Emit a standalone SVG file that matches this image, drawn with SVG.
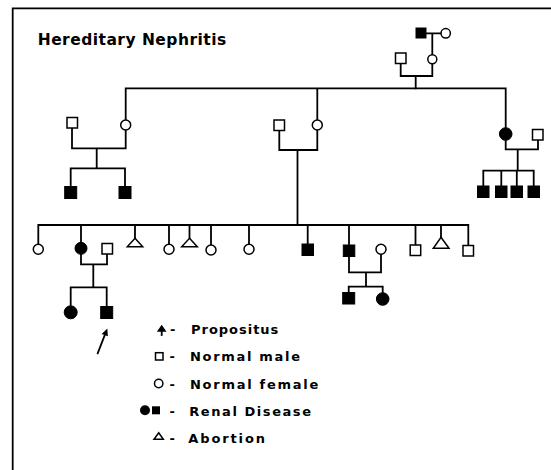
<svg xmlns="http://www.w3.org/2000/svg" width="551" height="470" viewBox="0 0 551 470">
<style>
.ln{fill:none;stroke:#000;stroke-width:1.8;stroke-linecap:square}
.o{fill:#fff;stroke:#000;stroke-width:1.5}
.f{fill:#000;stroke:#000;stroke-width:1}
.t{font-family:"DejaVu Sans",sans-serif;font-weight:bold;fill:#000}
</style>
<rect x="0" y="0" width="551" height="470" fill="#fff"/>
<g id="frame"><path class="ln" d="M12.7,8.3 H551 M12.7,8.3 V470"/></g>
<text id="title" class="t" x="37.7" y="45" font-size="15.5" textLength="188.5" lengthAdjust="spacing">Hereditary Nephritis</text>
<g id="connectors">
<path class="ln" d="M426,33.3 H441 M432.3,33.3 V54.8"/>
<path class="ln" d="M400.7,63.5 V76 H432.3 V63.8 M415.7,76 V88.3"/>
<path class="ln" d="M125.7,88.3 H505.7 M125.7,88.3 V120 M317.3,88.3 V120 M505.7,88.3 V127.5"/>
<path class="ln" d="M72,128 V148.3 H125.7 V130 M96.7,148.3 V168.3 M70.7,186.5 V168.3 H125 V186.5"/>
<path class="ln" d="M279.3,130.5 V150 H317.3 V130 M297.5,150 V225"/>
<path class="ln" d="M505.7,140.5 V149.3 H538 V140 M517.7,149.3 V170.7 M483.3,186 V170.7 H533.7 V186 M501.3,170.7 V186 M516.8,170.7 V186"/>
<path class="ln" d="M38.3,225 H468.3 M38.3,225 V244.3 M81,225 V242 M135,225 V238.3 M169,225 V244.3 M189.5,225 V238.3 M211,225 V245 M249,225 V244.3 M307.7,225 V244 M349,225 V245 M415.5,225 V245 M441,225 V237.3 M468.3,225 V245.5"/>
<path class="ln" d="M81,254.5 V264.3 H107 V254 M93.3,264.3 V287.3 M70.7,305.8 V287.3 H106.7 V306.5"/>
<path class="ln" d="M349,256.5 V272.3 H381 V254.3 M366,272.3 V286.7 M348.7,292.5 V286.7 H382.7 V292.5"/>
</g>
<g id="I-1"><rect class="f" x="416" y="28" width="10" height="10"/></g>
<g id="I-2"><circle class="o" cx="445.7" cy="33.3" r="4.7"/></g>
<g id="II-1"><rect class="o" x="395.5" y="53" width="10.5" height="10.5"/></g>
<g id="II-2"><circle class="o" cx="432.3" cy="59.3" r="4.5"/></g>
<g id="III-1"><rect class="o" x="67" y="117.5" width="10.5" height="10.5"/></g>
<g id="III-2"><circle class="o" cx="125.7" cy="125" r="5"/></g>
<g id="III-3"><rect class="o" x="274" y="120" width="10.5" height="10.5"/></g>
<g id="III-4"><circle class="o" cx="317.3" cy="125" r="5"/></g>
<g id="III-5"><circle class="f" cx="505.7" cy="134" r="6.3"/></g>
<g id="III-6"><rect class="o" x="532.5" y="129.5" width="10.5" height="10.5"/></g>
<g id="IV-1"><rect class="f" x="64.7" y="186.5" width="12" height="12"/></g>
<g id="IV-2"><rect class="f" x="119" y="186.5" width="12" height="12"/></g>
<g id="IV-3"><rect class="f" x="477.5" y="186" width="11.5" height="11.5"/></g>
<g id="IV-4"><rect class="f" x="495.5" y="186" width="11.5" height="11.5"/></g>
<g id="IV-5"><rect class="f" x="511" y="186" width="11.5" height="11.5"/></g>
<g id="IV-6"><rect class="f" x="528" y="186" width="11.5" height="11.5"/></g>
<g id="IV-7"><circle class="o" cx="38.3" cy="249.3" r="5"/></g>
<g id="IV-8"><circle class="f" cx="81" cy="248.3" r="6"/></g>
<g id="IV-9"><rect class="o" x="102" y="243.5" width="10.5" height="10.5"/></g>
<g id="IV-10"><polygon class="o" points="135,238.3 142.7,246.7 127.3,246.7"/></g>
<g id="IV-11"><circle class="o" cx="169" cy="249.3" r="5"/></g>
<g id="IV-12"><polygon class="o" points="189.5,238.3 197.3,246.7 181.7,246.7"/></g>
<g id="IV-13"><circle class="o" cx="211" cy="250" r="5"/></g>
<g id="IV-14"><circle class="o" cx="249" cy="249.3" r="5"/></g>
<g id="IV-15"><rect class="f" x="302" y="244" width="11.5" height="11.5"/></g>
<g id="IV-16"><rect class="f" x="343.3" y="245" width="11.5" height="11.5"/></g>
<g id="IV-17"><circle class="o" cx="381" cy="249.3" r="5"/></g>
<g id="IV-18"><rect class="o" x="410.2" y="245" width="10.5" height="10.5"/></g>
<g id="IV-19"><polygon class="o" points="441,237.3 449,248.3 433.3,248.3"/></g>
<g id="IV-20"><rect class="o" x="463" y="245.5" width="10.5" height="10.5"/></g>
<g id="V-1"><circle class="f" cx="70.7" cy="312.3" r="6.5"/></g>
<g id="V-2"><rect class="f" x="100.7" y="306.5" width="12" height="12"/></g>
<g id="V-3"><rect class="f" x="342.7" y="292.5" width="12" height="11.5"/></g>
<g id="V-4"><circle class="f" cx="382.7" cy="299" r="6.3"/></g>
<g id="propositus-arrow">
<path class="ln" d="M97.7,353.3 L104.8,335"/>
<polygon fill="#000" points="107.3,328.5 107.9,336.3 101.7,333.9"/>
</g>
<g id="legend">
<path class="ln" d="M161.7,330 V335" stroke-width="2.4"/>
<polygon fill="#000" points="161.7,324.8 166.5,331.8 156.9,331.8"/>
<text class="t" x="170" y="334" font-size="13">-</text>
<text class="t" x="191" y="334" font-size="13" textLength="87.3" lengthAdjust="spacing">Propositus</text>
<rect class="o" x="155.5" y="352.7" width="7.5" height="7.3"/>
<text class="t" x="169.5" y="361" font-size="13">-</text>
<text class="t" x="190" y="361" font-size="13" textLength="110" lengthAdjust="spacing">Normal male</text>
<circle class="o" cx="158.7" cy="383.5" r="4.2"/>
<text class="t" x="169.5" y="388.5" font-size="13">-</text>
<text class="t" x="190" y="388.5" font-size="13" textLength="128.3" lengthAdjust="spacing">Normal female</text>
<circle fill="#000" cx="145" cy="410.3" r="5"/>
<rect fill="#000" x="152" y="406.3" width="8" height="8"/>
<text class="t" x="169.5" y="415.5" font-size="13">-</text>
<text class="t" x="189.3" y="415.5" font-size="13" textLength="121.7" lengthAdjust="spacing">Renal Disease</text>
<polygon class="o" points="158.7,432.8 163.3,439.3 154,439.3"/>
<text class="t" x="169.5" y="443" font-size="13">-</text>
<text class="t" x="188.3" y="443" font-size="13" textLength="76.7" lengthAdjust="spacing">Abortion</text>
</g>
</svg>
